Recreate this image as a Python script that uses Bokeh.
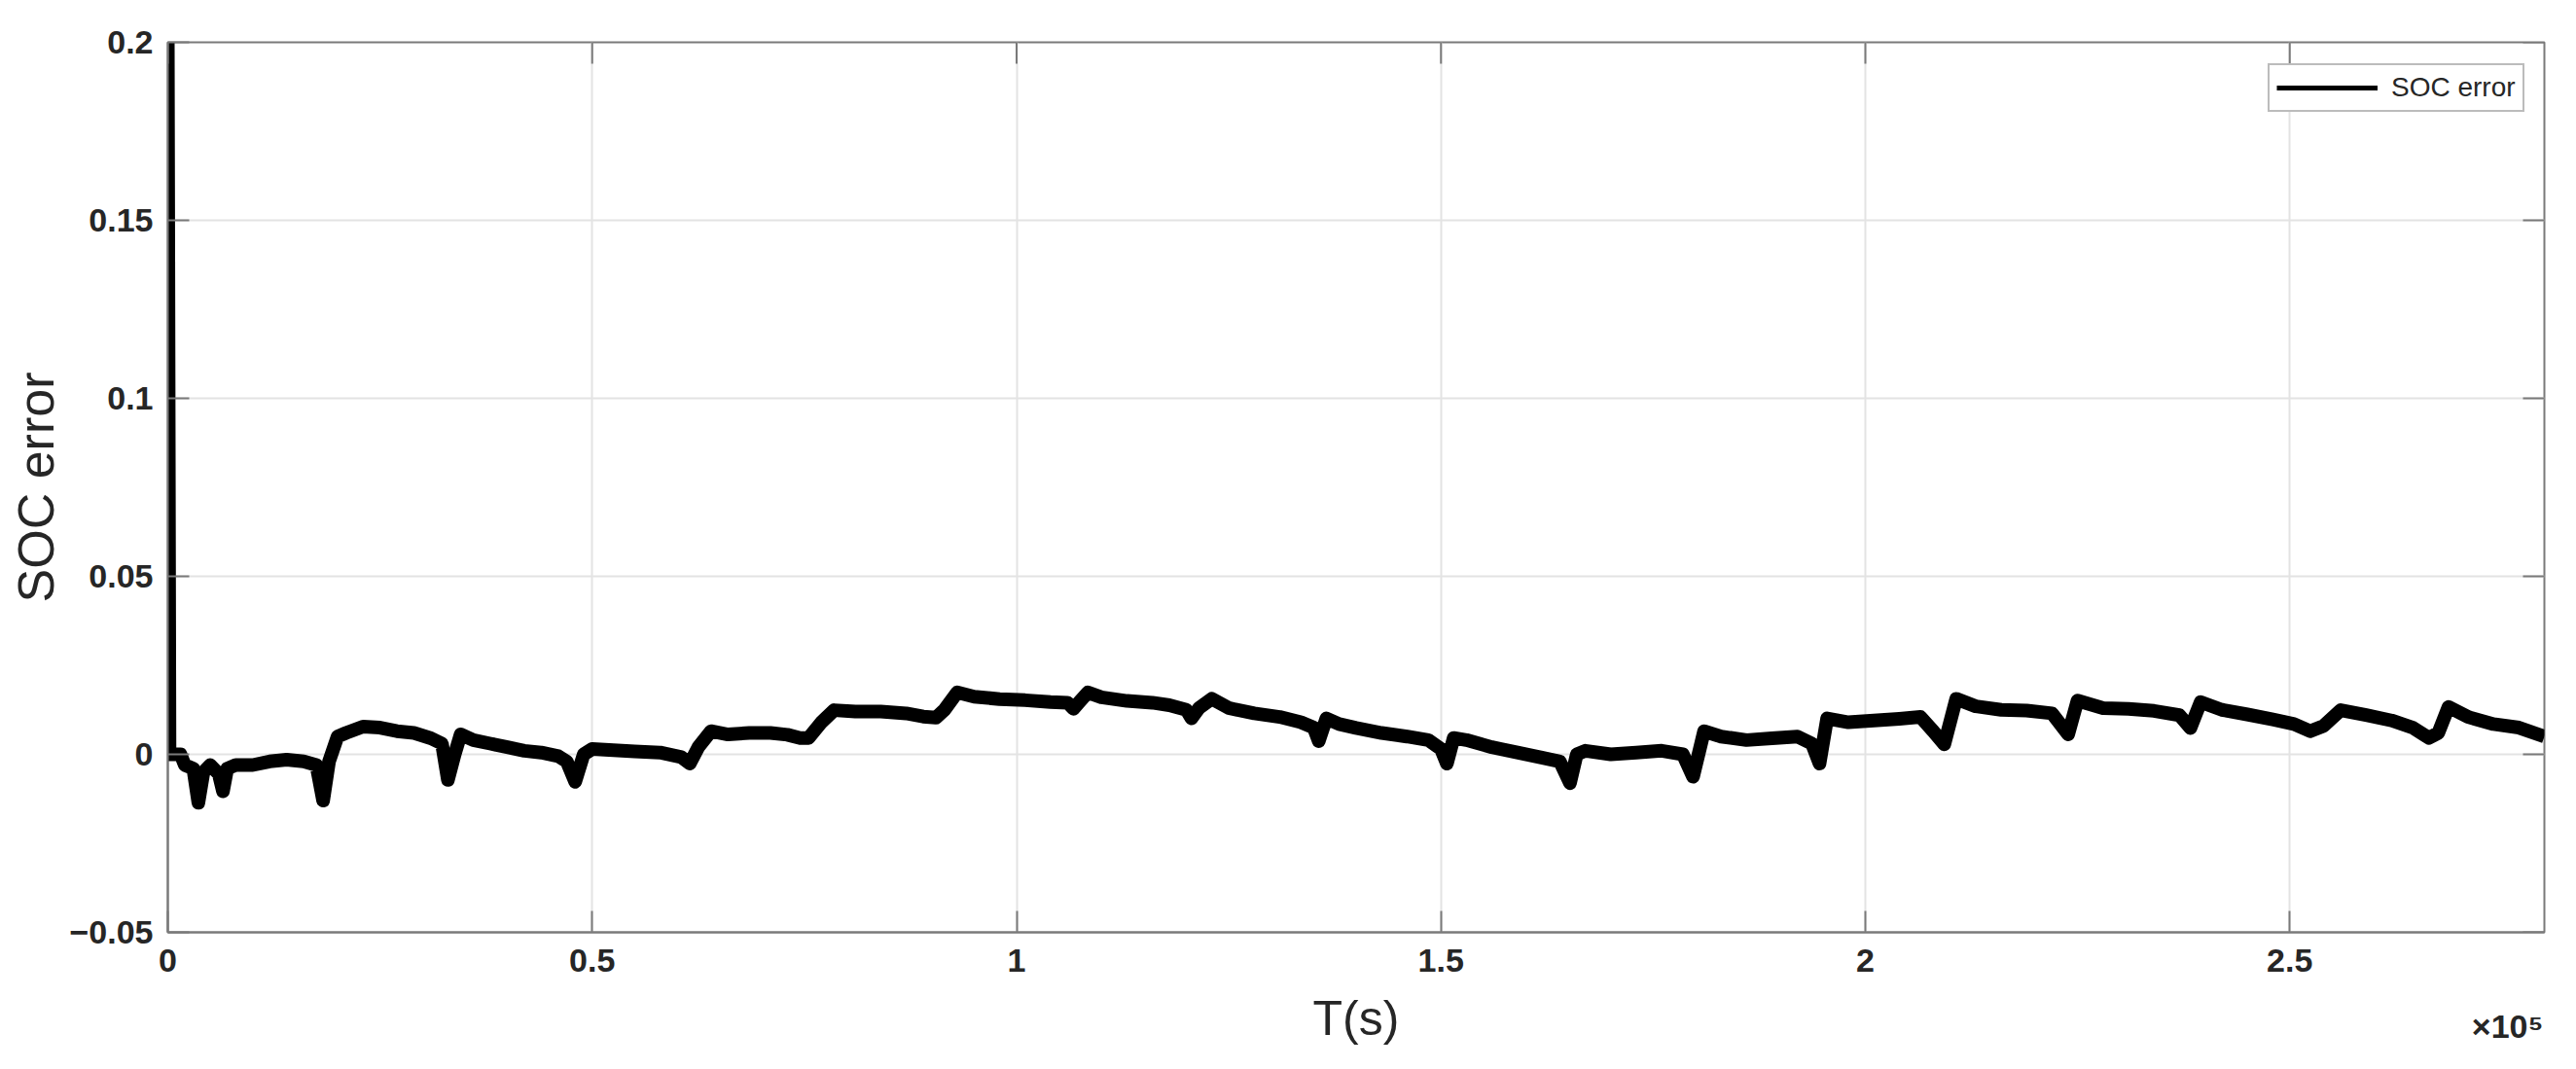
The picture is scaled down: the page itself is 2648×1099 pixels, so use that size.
from bokeh.plotting import figure
from bokeh.models import Range1d, FixedTicker, Legend, LegendItem, Label
from bokeh.embed import file_html
from bokeh.resources import INLINE

# ---- data ----
time_ks = [0, 0.2, 1.5, 2.0, 3.0, 3.6, 4.2, 5, 6, 6.5, 7, 8, 10, 12, 14, 16, 17.5, 18.3, 19, 20,
           21, 23, 25, 27, 29, 31, 32.3, 33, 33.8, 34.5, 36, 38, 40, 42, 44, 46, 47, 48, 49, 50,
           52, 55, 58, 60.5, 61.5, 62.5, 64, 66, 68.5, 71, 73, 74.5, 75.5, 77, 78.5, 81, 84, 87, 89, 90.5,
           91.5, 93, 95, 98, 101, 104, 106, 106.7, 107.5, 108.4, 110, 113, 116, 118, 120, 120.6, 121.5, 123, 125, 128,
           131, 133.5, 135, 135.6, 136.5, 138, 140, 143, 146, 148.5, 150, 150.7, 151.5, 153, 156, 159, 162, 164, 165.2, 166,
           167, 170, 173, 176, 178.5, 179.7, 181, 183, 186, 189, 192, 193.7, 194.6, 195.5, 198, 201, 204, 206.5, 208, 209.3,
           210.7, 213, 216, 219, 222, 223.9, 225, 228, 231, 234, 237, 238.3, 239.5, 242, 245, 248, 250.5, 252.4, 254, 256,
           259, 262, 264.5, 266.4, 267.5, 268.7, 271, 274, 277, 280]
soc_error = [0.2, 0.0, 0.0, -0.003, -0.004, -0.0136, -0.005, -0.003, -0.0055, -0.0104, -0.004, -0.003, -0.003, -0.002, -0.0015, -0.002, -0.003, -0.013, -0.002, 0.005,
             0.006, 0.0078, 0.0075, 0.0065, 0.006, 0.0045, 0.003, -0.0072, 0.0, 0.0056, 0.004, 0.003, 0.002, 0.001, 0.0005, -0.0005, -0.002, -0.0077, 0.0, 0.0015,
             0.0012, 0.0008, 0.0005, -0.0008, -0.0026, 0.002, 0.0065, 0.0056, 0.006, 0.006, 0.0055, 0.0046, 0.0046, 0.009, 0.0124, 0.012, 0.012, 0.0115, 0.0106, 0.0103,
             0.0125, 0.0174, 0.0162, 0.0155, 0.0152, 0.0147, 0.0145, 0.0128, 0.015, 0.0174, 0.016, 0.015, 0.0145, 0.0138, 0.0125, 0.0101, 0.013, 0.0156, 0.013, 0.0115,
             0.0105, 0.009, 0.0075, 0.0037, 0.0101, 0.0085, 0.0074, 0.006, 0.005, 0.004, 0.0015, -0.0026, 0.0046, 0.004, 0.002, 0.0005, -0.001, -0.002, -0.0081, 0.0,
             0.001, 0.0, 0.0005, 0.001, 0.0, -0.0063, 0.0065, 0.005, 0.004, 0.0045, 0.005, 0.003, -0.0026, 0.0101, 0.009, 0.0095, 0.01, 0.0105, 0.0065, 0.0028,
             0.0156, 0.0135, 0.0125, 0.0123, 0.0115, 0.0056, 0.0151, 0.013, 0.0128, 0.0122, 0.011, 0.0074, 0.0147, 0.0125, 0.0112, 0.0098, 0.0085, 0.0065, 0.008, 0.0124,
             0.011, 0.0095, 0.0075, 0.0046, 0.006, 0.0133, 0.0105, 0.0085, 0.0075, 0.005]

x_ticks = [0, 50000, 100000, 150000, 200000, 250000]
x_tick_labels = ["0", "0.5", "1", "1.5", "2", "2.5"]
y_ticks = [-0.05, 0, 0.05, 0.1, 0.15, 0.2]
y_tick_labels = ["\u22120.05", "0", "0.05", "0.1", "0.15", "0.2"]
x_min, x_max = 0, 280000
y_min, y_max = -0.05, 0.2
x_exponent_text = "\u00d710\u2075"

time_s = [t * 1000 for t in time_ks]

FONT = "Liberation Sans"
AXIS_GRAY = "#7a7a7a"
TXT = "#262626"
FRAME_W, FRAME_H = 2443, 915
TICK_LEN = 22

p = figure(frame_width=FRAME_W, frame_height=FRAME_H, output_backend="svg", toolbar_location=None,
           x_range=Range1d(x_min, x_max), y_range=Range1d(y_min, y_max),
           min_border_left=172, min_border_right=17, min_border_top=43, min_border_bottom=125,
           background_fill_color="white", border_fill_color="white")
p.outline_line_color = AXIS_GRAY
p.outline_line_width = 2

line_r = p.line(time_s, soc_error, line_width=14, color="black", line_join="round")
# out-of-view line, used only for the legend sample
legend_r = p.line([-2 * x_max, -3 * x_max], [y_max, y_max], line_width=5, color="black")

# inward ticks on the top and right sides of the box
x_tick_len = TICK_LEN * (x_max - x_min) / FRAME_W
y_tick_len = TICK_LEN * (y_max - y_min) / FRAME_H
p.segment(x0=x_ticks, y0=[y_max] * len(x_ticks), x1=x_ticks, y1=[y_max - y_tick_len] * len(x_ticks),
          line_color=AXIS_GRAY, line_width=2)
p.segment(x0=[x_max] * len(y_ticks), y0=y_ticks, x1=[x_max - x_tick_len] * len(y_ticks), y1=y_ticks,
          line_color=AXIS_GRAY, line_width=2)


def style_axis(ax, ticks, labels):
    ax.ticker = FixedTicker(ticks=ticks)
    ax.major_label_overrides = {t: l for t, l in zip(ticks, labels)}
    ax.axis_line_color = AXIS_GRAY
    ax.axis_line_width = 2
    ax.major_tick_in = TICK_LEN
    ax.major_tick_out = 0
    ax.major_tick_line_color = AXIS_GRAY
    ax.major_tick_line_width = 2
    ax.minor_tick_line_color = None
    ax.major_label_text_font = FONT
    ax.major_label_text_font_style = "bold"
    ax.major_label_text_font_size = "34px"
    ax.major_label_text_color = TXT


xa = p.xaxis[0]
style_axis(xa, x_ticks, x_tick_labels)
xa.major_label_standoff = 17
xa.axis_label = "T(s)"
xa.axis_label_text_font = FONT
xa.axis_label_text_font_size = "50px"
xa.axis_label_text_font_style = "normal"
xa.axis_label_text_color = TXT
xa.axis_label_standoff = 17

ya = p.yaxis[0]
style_axis(ya, y_ticks, y_tick_labels)
ya.major_label_standoff = 15
ya.axis_label = "SOC error"
ya.axis_label_text_font = FONT
ya.axis_label_text_font_size = "52px"
ya.axis_label_text_font_style = "normal"
ya.axis_label_text_color = TXT
ya.axis_label_standoff = 2

p.xgrid.ticker = FixedTicker(ticks=x_ticks)
p.ygrid.ticker = FixedTicker(ticks=y_ticks)
p.grid.grid_line_color = "#e3e3e3"
p.grid.grid_line_width = 2

legend = Legend(items=[LegendItem(label="SOC error", renderers=[legend_r])],
                location=(2159, 843), margin=0, padding=7, spacing=0,
                glyph_width=104, glyph_height=30, label_standoff=14,
                label_text_font=FONT, label_text_font_size="28px", label_text_color=TXT,
                border_line_color=AXIS_GRAY, border_line_width=2,
                background_fill_color="white", background_fill_alpha=1)
p.add_layout(legend)

# exponent marker under the right end of the x axis; kept in a side panel so it is not
# clipped to the plot frame (its position is given in data units of the same scales)
exp_label = Label(x=271440, y=-0.0765, text=x_exponent_text, text_font=FONT,
                  text_font_size="34px", text_font_style="bold", text_color=TXT,
                  text_baseline="alphabetic")
p.add_layout(exp_label, "above")

open("out.html", "w").write(file_html(p, INLINE))
